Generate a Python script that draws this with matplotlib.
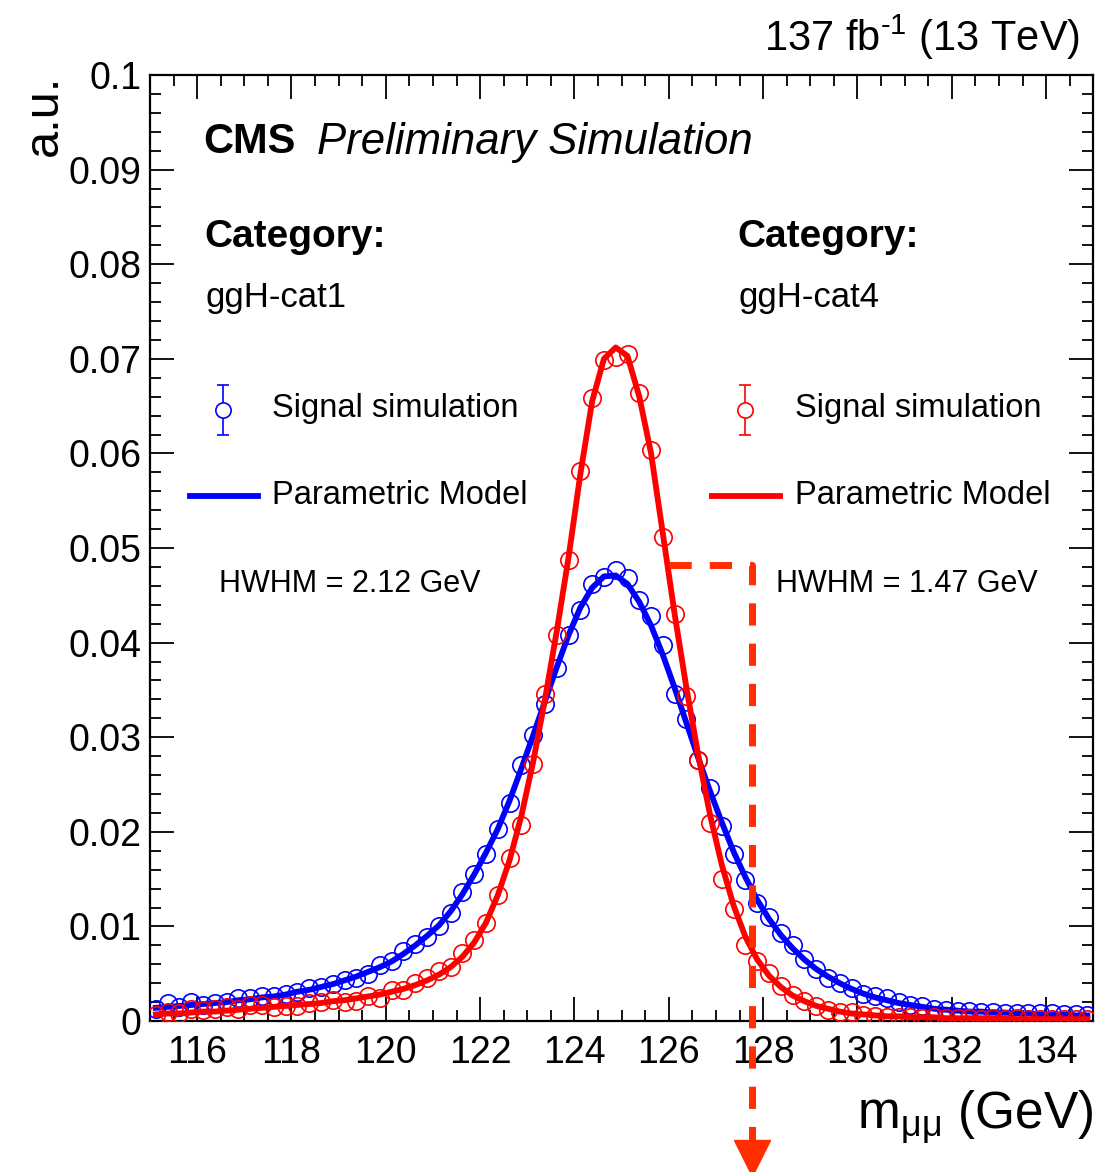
import numpy as np
import matplotlib
matplotlib.use('Agg')
import matplotlib.pyplot as plt
from matplotlib.ticker import MultipleLocator, FuncFormatter

plt.rcParams['font.family'] = ['Liberation Sans', 'DejaVu Sans']
plt.rcParams['mathtext.fontset'] = 'custom'
plt.rcParams['mathtext.rm'] = 'Liberation Sans'
plt.rcParams['mathtext.it'] = 'Liberation Sans:italic'

# bin centres, 0.25 GeV bins from 115 to 135
mass = np.arange(80) * 0.25 + 115.125

# ggH-cat1 (blue) simulated points
sim_cat1 = [0.0013, 0.0019, 0.0015, 0.0020, 0.0017, 0.0019, 0.0020, 0.0024, 0.0024, 0.0027,
            0.0026, 0.0029, 0.0031, 0.0035, 0.0036, 0.0039, 0.0043, 0.0045, 0.0050, 0.0059,
            0.0063, 0.0074, 0.0081, 0.0089, 0.0100, 0.0114, 0.0136, 0.0155, 0.0177, 0.0203,
            0.0230, 0.0271, 0.0302, 0.0335, 0.0373, 0.0408, 0.0435, 0.0462, 0.0469, 0.0477,
            0.0468, 0.0445, 0.0428, 0.0398, 0.0346, 0.0319, 0.0276, 0.0246, 0.0206, 0.0177,
            0.0149, 0.0125, 0.0110, 0.0093, 0.0080, 0.0066, 0.0055, 0.0045, 0.0040, 0.0035,
            0.0029, 0.0026, 0.0024, 0.0020, 0.0017, 0.0016, 0.0013, 0.0012, 0.0011, 0.0011,
            0.0010, 0.0010, 0.0009, 0.0009, 0.0008, 0.0008, 0.0008, 0.0007, 0.0007, 0.0006]

# ggH-cat1 parametric model
model_cat1 = [0.0014, 0.0015, 0.0016, 0.0017, 0.0018, 0.0019, 0.0020, 0.0022, 0.0023, 0.0025,
              0.0026, 0.0028, 0.0031, 0.0033, 0.0036, 0.0039, 0.0043, 0.0047, 0.0052, 0.0057,
              0.0063, 0.0071, 0.0080, 0.0090, 0.0101, 0.0116, 0.0134, 0.0155, 0.0178, 0.0203,
              0.0233, 0.0267, 0.0302, 0.0338, 0.0374, 0.0408, 0.0437, 0.0458, 0.0470, 0.0471,
              0.0462, 0.0443, 0.0418, 0.0387, 0.0352, 0.0315, 0.0278, 0.0243, 0.0210, 0.0179,
              0.0152, 0.0128, 0.0108, 0.0091, 0.0077, 0.0065, 0.0055, 0.0047, 0.0040, 0.0034,
              0.0029, 0.0025, 0.0022, 0.0019, 0.0017, 0.0015, 0.0013, 0.0012, 0.0011, 0.0010,
              0.0010, 0.0009, 0.0009, 0.0008, 0.0008, 0.0007, 0.0007, 0.0007, 0.0006, 0.0006]

# ggH-cat4 (red) simulated points
sim_cat4 = [0.0006, 0.0010, 0.0008, 0.0013, 0.0012, 0.0013, 0.0015, 0.0013, 0.0017, 0.0017,
            0.0015, 0.0016, 0.0016, 0.0019, 0.0020, 0.0022, 0.0020, 0.0021, 0.0026, 0.0024,
            0.0033, 0.0033, 0.0040, 0.0045, 0.0053, 0.0057, 0.0072, 0.0086, 0.0104, 0.0133,
            0.0172, 0.0207, 0.0272, 0.0346, 0.0408, 0.0487, 0.0581, 0.0659, 0.0699, 0.0702,
            0.0705, 0.0664, 0.0604, 0.0512, 0.0430, 0.0344, 0.0276, 0.0209, 0.0150, 0.0118,
            0.0080, 0.0063, 0.0051, 0.0037, 0.0028, 0.0021, 0.0016, 0.0012, 0.0010, 0.0010,
            0.0006, 0.0005, 0.0004, 0.0004, 0.0004, 0.0003, 0.0004, 0.0003, 0.0003, 0.0003,
            0.0002, 0.0003, 0.0002, 0.0003, 0.0002, 0.0002, 0.0002, 0.0002, 0.0002, 0.0002]

# ggH-cat4 parametric model
model_cat4 = [0.0007, 0.0008, 0.0008, 0.0009, 0.0010, 0.0010, 0.0011, 0.0012, 0.0013, 0.0014,
              0.0015, 0.0016, 0.0017, 0.0018, 0.0019, 0.0021, 0.0022, 0.0024, 0.0026, 0.0028,
              0.0031, 0.0034, 0.0038, 0.0043, 0.0049, 0.0057, 0.0068, 0.0083, 0.0104, 0.0133,
              0.0170, 0.0217, 0.0274, 0.0340, 0.0412, 0.0490, 0.0578, 0.0655, 0.0700, 0.0712,
              0.0703, 0.0660, 0.0600, 0.0515, 0.0430, 0.0352, 0.0281, 0.0218, 0.0165, 0.0122,
              0.0089, 0.0065, 0.0048, 0.0036, 0.0027, 0.0021, 0.0016, 0.0013, 0.0010, 0.0008,
              0.0007, 0.0006, 0.0005, 0.0005, 0.0004, 0.0004, 0.0004, 0.0003, 0.0003, 0.0003,
              0.0003, 0.0003, 0.0003, 0.0002, 0.0002, 0.0002, 0.0002, 0.0002, 0.0002, 0.0002]

blue = '#0000ff'
red = '#ff0000'
arrow_col = '#ff2d00'

fig = plt.figure(figsize=(11.19, 11.72), dpi=100)
ax = fig.add_axes([0.134, 0.1288, 0.843, 0.8072])

mk = dict(marker='o', ms=12.5, mfc='none', mew=1.2, ls='none')
ax.plot(mass, sim_cat1, mec=blue, zorder=3, **mk)
ax.plot(mass, model_cat1, color=blue, lw=4.2, zorder=4)
ax.plot(mass, sim_cat4, mec=red, zorder=5, **mk)
ax.plot(mass, model_cat4, color=red, lw=4.2, zorder=6)

ax.set_xlim(115, 135)
ax.set_ylim(0, 0.1)
ax.xaxis.set_major_locator(MultipleLocator(2))
ax.xaxis.set_minor_locator(MultipleLocator(0.5))
ax.yaxis.set_major_locator(MultipleLocator(0.01))
ax.yaxis.set_minor_locator(MultipleLocator(0.002))
ax.yaxis.set_major_formatter(FuncFormatter(lambda v, p: '0' if abs(v) < 1e-9 else ('%g' % round(v, 3))))
ax.tick_params(which='both', direction='in', top=True, right=True, width=1.3, labelsize=27)
ax.tick_params(which='major', axis='x', length=17, pad=10)
ax.tick_params(which='minor', axis='x', length=8)
ax.tick_params(which='major', axis='y', length=17, pad=6)
ax.tick_params(which='minor', axis='y', length=8)
ax.set_xticks(np.arange(116, 135, 2))
for s in ax.spines.values():
    s.set_linewidth(1.6)

# texts
tr = ax.transAxes
ax.text(0.056, 0.929, 'CMS', transform=tr, fontsize=30, fontweight='bold', va='center')
ax.text(0.177, 0.929, 'Preliminary Simulation', transform=tr, fontsize=31.5, style='italic', va='center')

# column layout: category x, marker x, text x, line start, line end, hwhm x
columns = [
    ('ggH-cat1', 'HWHM = 2.12 GeV', blue, 0.058, 0.0775, 0.129, 0.0424, 0.1145, 0.0732),
    ('ggH-cat4', 'HWHM = 1.47 GeV', red, 0.6225, 0.631, 0.684, 0.596, 0.668, 0.664),
]
for cat, hw, col, xc, xm, xt, l0, l1, xh in columns:
    ax.text(xc, 0.829, 'Category:', transform=tr, fontsize=28, fontweight='bold', va='center')
    ax.text(xc + 0.001, 0.765, cat, transform=tr, fontsize=25, va='center')
    ax.errorbar([xm], [0.646], yerr=[0.026], transform=tr, color=col, marker='o', ms=11,
                mfc='white', mec=col, mew=1.2, elinewidth=1.2, capsize=4, capthick=1.2,
                clip_on=False)
    ax.text(xt, 0.648, 'Signal simulation', transform=tr, fontsize=23.5, va='center')
    ax.plot([l0, l1], [0.555, 0.555], transform=tr, color=col, lw=4.2)
    ax.text(xt, 0.555, 'Parametric Model', transform=tr, fontsize=23.5, va='center')
    ax.text(xh, 0.462, hw, transform=tr, fontsize=22, va='center')

# dashed marker line with arrow going below the axis
ax.plot([126.0, 127.77, 127.77], [0.0482, 0.0482, -0.0128], color=arrow_col, lw=5,
        ls=(0, (3.2, 2.6)), clip_on=False, zorder=10, solid_joinstyle='miter')
ax.plot([127.77], [-0.0145], marker='v', ms=26, color=arrow_col, mec=arrow_col,
        clip_on=False, zorder=10)

fig.text(0.965, 0.968, r'137 fb$^{\text{-}1}$ (13 TeV)', fontsize=30, ha='right', va='center')
fig.text(0.040, 0.936, 'a.u.', fontsize=35, rotation=90, ha='center', va='top')
fig.text(0.977, 0.047, r'm$_{\mathregular{\mu\mu}}$ (GeV)', fontsize=37, ha='right', va='center')

fig.savefig('out.png', dpi=100)
